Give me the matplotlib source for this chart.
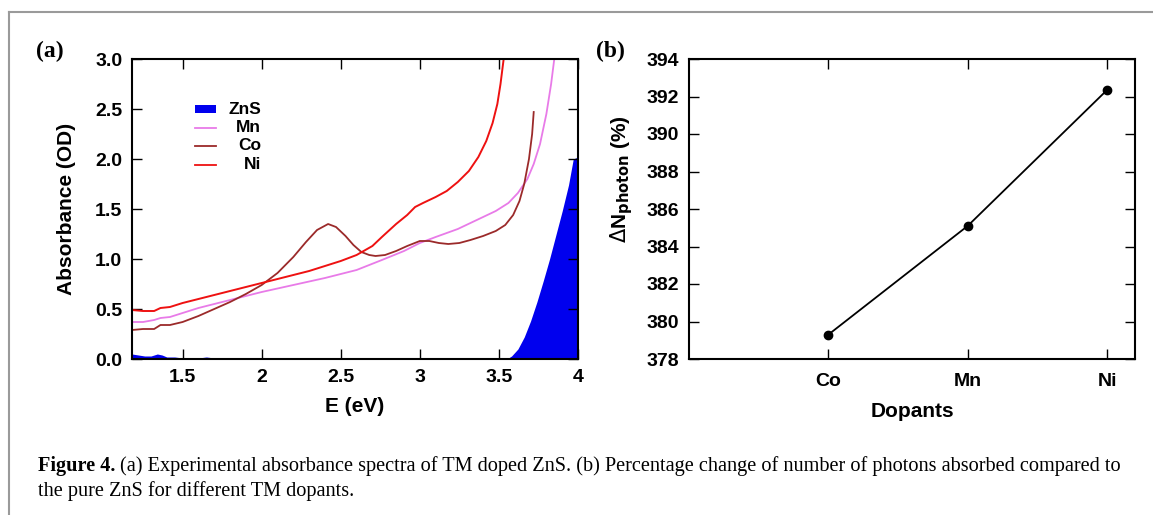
import numpy as np
import matplotlib
matplotlib.use("Agg")
import matplotlib.pyplot as plt
from matplotlib.lines import Line2D
from matplotlib.patches import Rectangle

# ---------------- data ----------------
ni_E = [1.18, 1.25, 1.32, 1.36, 1.42, 1.5, 1.6, 1.7, 1.8, 1.9, 2.0, 2.1, 2.2, 2.3, 2.4, 2.5,
        2.6, 2.7, 2.76, 2.85, 2.92, 2.97, 3.02, 3.1, 3.17, 3.24, 3.31, 3.37, 3.42, 3.46, 3.49, 3.51, 3.53]
ni_A = [0.49, 0.48, 0.48, 0.51, 0.52, 0.56, 0.60, 0.64, 0.68, 0.72, 0.76, 0.80, 0.84, 0.88, 0.93, 0.98,
        1.04, 1.13, 1.22, 1.35, 1.44, 1.52, 1.56, 1.62, 1.68, 1.77, 1.88, 2.02, 2.18, 2.36, 2.55, 2.75, 3.0]

mn_E = [1.18, 1.25, 1.32, 1.36, 1.42, 1.5, 1.6, 1.7, 1.8, 1.9, 2.0, 2.2, 2.4, 2.5, 2.6, 2.76, 2.9,
        3.0, 3.1, 3.24, 3.36, 3.48, 3.56, 3.62, 3.68, 3.72, 3.76, 3.8, 3.83, 3.85]
mn_A = [0.37, 0.37, 0.39, 0.41, 0.42, 0.46, 0.51, 0.55, 0.59, 0.63, 0.67, 0.74, 0.81, 0.85, 0.89, 0.99, 1.08,
        1.16, 1.22, 1.30, 1.39, 1.48, 1.56, 1.66, 1.80, 1.95, 2.15, 2.45, 2.75, 3.0]

co_E = [1.18, 1.25, 1.32, 1.36, 1.42, 1.5, 1.6, 1.7, 1.8, 1.9, 2.0, 2.1, 2.2, 2.28, 2.35, 2.42, 2.47,
        2.53, 2.58, 2.63, 2.68, 2.72, 2.78, 2.85, 2.92, 3.0, 3.06, 3.12, 3.18, 3.25, 3.32, 3.4, 3.48,
        3.54, 3.59, 3.63, 3.66, 3.69, 3.71, 3.72]
co_A = [0.29, 0.30, 0.30, 0.34, 0.34, 0.37, 0.43, 0.50, 0.57, 0.65, 0.74, 0.86, 1.02, 1.17, 1.29, 1.35, 1.32,
        1.23, 1.14, 1.07, 1.04, 1.03, 1.04, 1.08, 1.13, 1.18, 1.18, 1.16, 1.15, 1.16, 1.19, 1.23, 1.28,
        1.34, 1.44, 1.58, 1.75, 2.0, 2.25, 2.47]

zns_E = [1.18, 1.22, 1.26, 1.3, 1.34, 1.37, 1.4, 1.45, 1.5, 1.6, 1.65, 1.7, 2.0, 2.5, 3.0, 3.5, 3.55,
         3.58, 3.62, 3.66, 3.7, 3.74, 3.78, 3.82, 3.86, 3.9, 3.94, 3.97, 4.0]
zns_A = [0.05, 0.04, 0.03, 0.03, 0.05, 0.04, 0.02, 0.02, 0.01, 0.01, 0.02, 0.01, 0.005, 0.005, 0.005, 0.0, 0.0,
         0.03, 0.10, 0.22, 0.38, 0.57, 0.78, 1.00, 1.24, 1.48, 1.74, 2.00, 2.02]

dopants = ["Co", "Mn", "Ni"]
dN_photon = [379.3, 385.1, 392.35]

x_ticks_a = [1.5, 2, 2.5, 3, 3.5, 4]
x_ticklabels_a = ["1.5", "2", "2.5", "3", "3.5", "4"]
y_ticks_a = [0.0, 0.5, 1.0, 1.5, 2.0, 2.5, 3.0]
y_ticks_b = [378, 380, 382, 384, 386, 388, 390, 392, 394]

caption_bold = "Figure 4."
caption_line1 = ("(a) Experimental absorbance spectra of TM doped ZnS. (b) Percentage change of "
                 "number of photons absorbed compared to")
caption_line2 = "the pure ZnS for different TM dopants."

# ---------------- figure ----------------
W, H = 1153, 515
fig = plt.figure(figsize=(W / 100, H / 100), dpi=100)
fig.patch.set_facecolor("white")

SANS = ["Liberation Sans", "DejaVu Sans"]
SERIF = ["Liberation Serif", "DejaVu Serif"]
TICK_FS = 14
LABEL_FS = 15


def fx(px):
    return px / W


def fy(py):
    return 1 - py / H


def style_axes(ax):
    for s in ax.spines.values():
        s.set_linewidth(1.5)
        s.set_color("black")
    ax.tick_params(direction="in", length=7, width=1.0, top=True, right=True,
                   labelsize=TICK_FS, pad=7)
    for lab in ax.get_xticklabels() + ax.get_yticklabels():
        lab.set_fontfamily(SANS)
        lab.set_fontweight("bold")


# gray frame
fig.add_artist(Line2D([fx(9), fx(9)], [fy(12), 0], color="#9a9a9a", lw=1.5))
fig.add_artist(Line2D([fx(9), 1], [fy(12), fy(12)], color="#9a9a9a", lw=1.5))

# ---- panel (a)
axa = fig.add_axes([fx(132), fy(359), fx(578) - fx(132), fy(59) - fy(359)])
axa.fill_between(zns_E, 0, zns_A, color="#0000ee", lw=0)
axa.plot(mn_E, mn_A, color="#e87be8", lw=1.3)
axa.plot(co_E, co_A, color="#9b2a2a", lw=1.3)
axa.plot(ni_E, ni_A, color="#ee1111", lw=1.4)
axa.set_xlim(1.18, 4.0)
axa.set_ylim(0, 3.0)
axa.set_xticks(x_ticks_a)
axa.set_xticklabels(x_ticklabels_a)
axa.set_yticks(y_ticks_a)
axa.set_yticklabels([f"{v:.1f}" for v in y_ticks_a])
style_axes(axa)
axa.set_xlabel("E (eV)", fontsize=LABEL_FS, fontweight="bold", family=SANS, labelpad=8)
axa.set_ylabel("Absorbance (OD)", fontsize=LABEL_FS, fontweight="bold", family=SANS, labelpad=14)

# legend (gnuplot style: sample left, text right-aligned)
leg_items = [("ZnS", "fill", "#0000ee"), ("Mn", "line", "#e87be8"),
             ("Co", "line", "#9b2a2a"), ("Ni", "line", "#ee1111")]
y0 = 109
for i, (lab, kind, col) in enumerate(leg_items):
    yy = y0 + i * 18.5
    if kind == "fill":
        fig.add_artist(Rectangle((fx(195), fy(yy + 4)), fx(216) - fx(195), fy(yy - 4) - fy(yy + 4),
                                 color=col, lw=0))
    else:
        fig.add_artist(Line2D([fx(195), fx(216)], [fy(yy), fy(yy)], color=col, lw=1.3))
    fig.text(fx(261), fy(yy), lab, ha="right", va="center", fontsize=12.5,
             fontweight="bold", family=SANS)

fig.text(fx(36), fy(51), "(a)", fontsize=17, fontweight="bold", family=SERIF, va="center")

# ---- panel (b)
axb = fig.add_axes([fx(689), fy(359), fx(1135) - fx(689), fy(59) - fy(359)])
xpos = np.arange(1, len(dopants) + 1)
axb.plot(xpos, dN_photon, color="black", lw=1.3, marker="o", ms=6)
axb.set_xlim(0, 3.2)
axb.set_ylim(378, 394)
axb.set_xticks(xpos)
axb.set_xticklabels(dopants)
axb.set_yticks(y_ticks_b)
style_axes(axb)
axb.tick_params(axis="x", pad=10)
axb.set_xlabel("Dopants", fontsize=LABEL_FS, fontweight="bold", family=SANS, labelpad=9)
axb.set_ylabel(r"$\Delta$N$_{\mathbf{photon}}$ (%)", fontsize=LABEL_FS, fontweight="bold",
               family=SANS, labelpad=6)
axb.yaxis.set_label_coords(-0.12, 0.60)

fig.text(fx(596), fy(51), "(b)", fontsize=17, fontweight="bold", family=SERIF, va="center")

# ---- caption
CAP_FS = 14.6
t_bold = fig.text(fx(38), fy(466), caption_bold, fontsize=CAP_FS, fontweight="bold",
                  family=SERIF, va="center")
fig.canvas.draw()
bb = t_bold.get_window_extent()
fig.text(bb.x1 / W + fx(5), fy(466), caption_line1, fontsize=CAP_FS, family=SERIF, va="center")
fig.text(fx(38), fy(491), caption_line2, fontsize=CAP_FS, family=SERIF, va="center")

fig.savefig("out.png", dpi=100, facecolor="white")
